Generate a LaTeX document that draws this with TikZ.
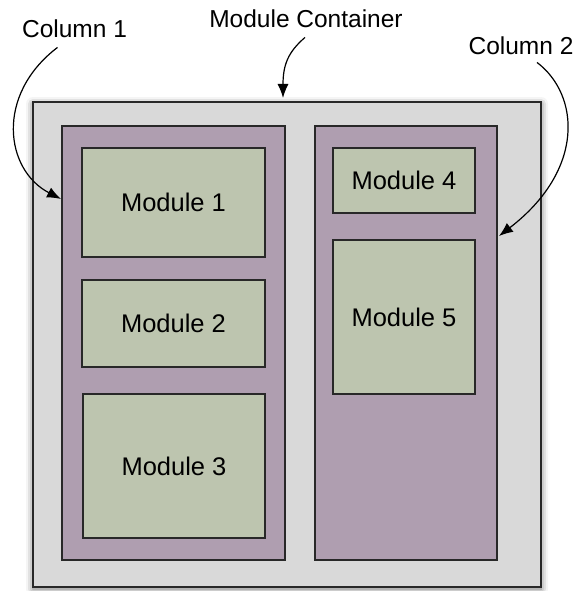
\documentclass[tikz,border=0pt]{standalone}
\usepackage{fontspec}
\setmainfont{Liberation Sans}
\usetikzlibrary{arrows.meta}
\usetikzlibrary{shadows.blur}
\definecolor{mgray}{RGB}{217,217,217}
\definecolor{mpurple}{RGB}{175,158,176}
\definecolor{mgreen}{RGB}{189,197,175}
\definecolor{mline}{RGB}{40,40,40}

\tikzset{
  framebox/.style={draw=mline, line width=1.5pt, inner sep=0pt, font=\fontsize{25.5}{30}\selectfont},
  containerbox/.style={framebox, fill=mgray, blur shadow={shadow xshift=0pt, shadow yshift=-2pt, shadow blur radius=7pt, shadow opacity=60}},
  columnbox/.style={framebox, fill=mpurple},
  modulebox/.style={framebox, fill=mgreen},
  callout/.style={anchor=base, inner sep=0pt, font=\fontsize{24.5}{28}\selectfont},
  pointer/.style={draw=black, line width=1.2pt, -{Latex[length=14pt,width=11pt]}}
}

\begin{document}
\begin{tikzpicture}[x=1pt, y=-1pt]
    \useasboundingbox (0, 0) rectangle (577, 591);

    \node [containerbox, minimum width=508pt, minimum height=485pt] (container) at (287, 344.5) {};
    \node [columnbox, minimum width=223pt, minimum height=434pt] (col1) at (173.5, 343) {};
    \node [columnbox, minimum width=182pt, minimum height=434pt] (col2) at (406, 343) {};

    \node [modulebox, minimum width=183pt, minimum height=109pt] (mod1) at (173.5, 202.5) {Module 1};
    \node [modulebox, minimum width=183pt, minimum height=87pt] (mod2) at (173.5, 323.5) {Module 2};
    \node [modulebox, minimum width=182pt, minimum height=144pt] (mod3) at (174, 466) {Module 3};
    \node [modulebox, minimum width=142pt, minimum height=65pt] (mod4) at (404, 180.5) {Module 4};
    \node [modulebox, minimum width=142pt, minimum height=154pt] (mod5) at (404, 317) {Module 5};

    \node [callout] (lcol1) at (74.5, 38) {Column 1};
    \node [callout] (lcont) at (306, 28) {Module Container};
    \node [callout] (lcol2) at (521, 55) {Column 2};

    \coordinate (tipcol1) at (61, 199);
    \coordinate (tipcont) at (283, 98);
    \coordinate (tipcol2) at (499, 236);

    \draw [pointer] (lcol1.south) ++(-17, 9) .. controls (-5, 95) and (5, 170) .. (tipcol1);
    \draw [pointer] (lcont.south) ++(-1, 9) .. controls (288, 52) and (283, 65) .. (tipcont);
    \draw [pointer] (lcol2.south) ++(16, 7) .. controls (580, 95) and (585, 170) .. (tipcol2);
  \end{tikzpicture}
\end{document}
